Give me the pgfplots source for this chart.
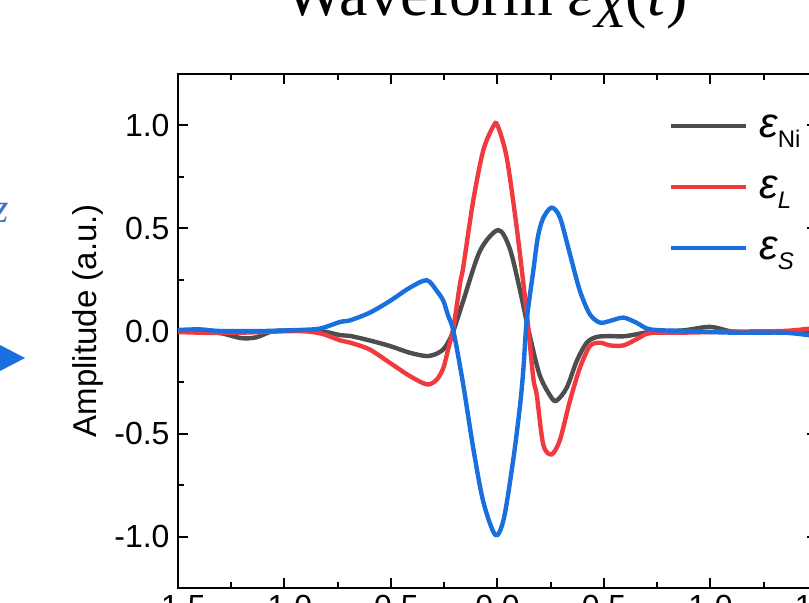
\documentclass[border=0pt]{standalone}
\usepackage{pgfplots}
\pgfplotsset{compat=1.18}
\usepackage{fontspec}
\setmainfont{Liberation Sans}
\newfontfamily\seriffont{Liberation Serif}
\definecolor{cNi}{RGB}{77,77,77}
\definecolor{cL}{RGB}{240,58,64}
\definecolor{cS}{RGB}{26,111,223}
\definecolor{cZ}{RGB}{68,114,196}
\begin{document}
\begin{tikzpicture}
\path[use as bounding box] (-89pt,-7pt) rectangle (315.5pt,294pt);
\clip (-89pt,-7pt) rectangle (315.5pt,294pt);
\begin{axis}[
  at={(0pt,0pt)}, anchor=south west,
  scale only axis, width=319.5pt, height=257pt,
  xmin=-1.5, xmax=1.5, ymin=-1.25, ymax=1.25,
  xtick={-1.5,-1,...,1.5}, ytick={-1,-0.5,...,1},
  minor x tick num=1, minor y tick num=1,
  tick align=inside,
  major tick length=5pt, minor tick length=3pt,
  axis line style={line width=1pt},
  every tick/.style={black, line width=1pt},
  /pgf/number format/assume math mode=true,
  /pgf/number format/fixed, /pgf/number format/fixed zerofill, /pgf/number format/precision=1,
  tick label style={font=\fontsize{16}{16}\selectfont},
  yticklabel style={xshift=-0.7pt},
  ylabel={Amplitude (a.u.)},
  ylabel style={at={(axis description cs:-0.141,0.52)}, anchor=center, font=\fontsize{16.5}{16.5}\selectfont},
  legend style={at={(0.768,0.923)}, anchor=north west, draw=none, fill=none,
    inner sep=0pt, row sep=13.5pt,
    nodes={inner sep=0pt, text height=12pt, text depth=5pt}},
  legend cell align=left,
  legend image code/.code={\draw[#1, line width=2pt] (0pt,2.5pt) -- (37.5pt,2.5pt); \path (43pt,2.5pt);},
  clip=true,
]
\addplot[color=cNi, line width=2.2pt, smooth] coordinates {
(-1.5,0.0) (-1.4,0.005) (-1.3,-0.01) (-1.2,-0.035) (-1.13,-0.03) (-1.05,0.0)
(-0.93,0.0) (-0.83,0.0) (-0.739,-0.02) (-0.692,-0.024) (-0.60,-0.046)
(-0.505,-0.073) (-0.411,-0.106) (-0.332,-0.122) (-0.285,-0.11) (-0.254,-0.089)
(-0.232,-0.055) (-0.207,0.0) (-0.161,0.146) (-0.082,0.39) (0.003,0.491)
(0.056,0.406) (0.103,0.211) (0.150,-0.016) (0.197,-0.211) (0.244,-0.309)
(0.275,-0.34) (0.325,-0.276) (0.372,-0.146) (0.419,-0.057) (0.466,-0.029)
(0.528,-0.025) (0.591,-0.026) (0.653,-0.016) (0.716,-0.005) (0.871,0.003)
(0.998,0.02) (1.106,-0.003) (1.265,-0.008) (1.462,0.0) (1.5,0.0)
};
\addlegendentry{{\fontsize{21}{21}\selectfont\itshape ε}\raisebox{-5pt}{\fontsize{12}{12}\selectfont Ni}}
\addplot[color=cL, line width=2.2pt, smooth] coordinates {
(-1.5,-0.005) (-1.3,-0.01) (-1.1,-0.005) (-0.93,0.0) (-0.83,-0.012)
(-0.74,-0.045) (-0.69,-0.057) (-0.60,-0.09) (-0.505,-0.155) (-0.41,-0.22)
(-0.33,-0.26) (-0.285,-0.236) (-0.254,-0.179) (-0.232,-0.09) (-0.207,0.016)
(-0.176,0.23) (-0.161,0.309) (-0.114,0.634) (-0.067,0.878) (-0.020,0.995)
(0.0,1.0) (0.043,0.845) (0.090,0.504) (0.137,0.09) (0.168,-0.228)
(0.184,-0.309) (0.215,-0.553) (0.254,-0.60) (0.293,-0.53) (0.340,-0.34)
(0.387,-0.179) (0.434,-0.073) (0.481,-0.057) (0.528,-0.07) (0.591,-0.07)
(0.653,-0.04) (0.716,-0.01) (0.871,-0.008) (1.106,-0.003) (1.34,0.0)
(1.462,0.011) (1.5,0.015)
};
\addlegendentry{{\fontsize{21}{21}\selectfont\itshape ε}\raisebox{-5pt}{\fontsize{12}{12}\selectfont\itshape L}}
\addplot[color=cS, line width=2.2pt, smooth] coordinates {
(-1.5,0.005) (-1.4,0.008) (-1.3,0.0) (-1.1,0.0) (-0.93,0.005) (-0.833,0.012)
(-0.739,0.044) (-0.692,0.052) (-0.60,0.089) (-0.505,0.146) (-0.411,0.211)
(-0.332,0.247) (-0.285,0.195) (-0.254,0.146) (-0.232,0.075) (-0.207,0.0)
(-0.161,-0.26) (-0.114,-0.569) (-0.067,-0.829) (-0.01,-0.992) (0.03,-0.911)
(0.075,-0.618) (0.106,-0.36) (0.122,-0.179) (0.137,0.05) (0.168,0.293)
(0.190,0.46) (0.215,0.55) (0.254,0.60) (0.293,0.553) (0.340,0.374)
(0.387,0.195) (0.434,0.081) (0.481,0.041) (0.528,0.049) (0.591,0.065)
(0.653,0.04) (0.716,0.008) (0.871,0.0) (1.106,-0.008) (1.34,-0.008)
(1.462,-0.02) (1.5,-0.022)
};
\addlegendentry{{\fontsize{21}{21}\selectfont\itshape ε}\raisebox{-5pt}{\fontsize{12}{12}\selectfont\itshape S}}
\end{axis}
\node[anchor=base, inner sep=0pt] at (154pt,286.5pt)
  {\seriffont\fontsize{32}{32}\selectfont Waveform {\itshape ε}\raisebox{-0.2em}{\fontsize{26}{26}\selectfont\itshape X}(\textit{t})};
\node[anchor=base east, inner sep=0pt, text=cZ] at (-84.5pt,183pt)
  {\seriffont\fontsize{21}{21}\selectfont\itshape z};
\fill[cS] (-76.5pt,115pt) -- (-89pt,121.5pt) -- (-89pt,108.5pt) -- cycle;
\end{tikzpicture}
\end{document}
